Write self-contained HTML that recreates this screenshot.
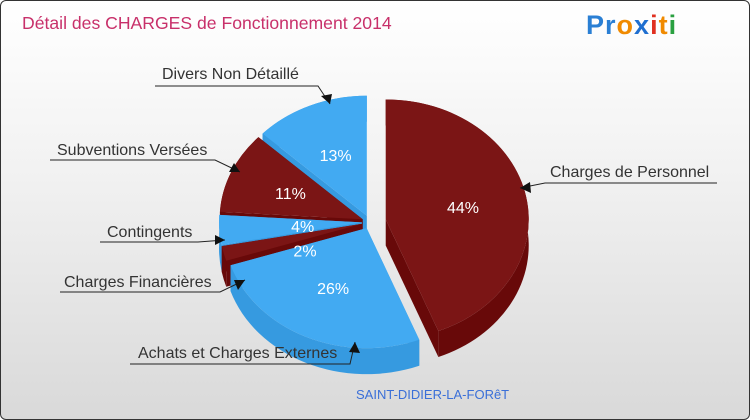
<!DOCTYPE html>
<html><head><meta charset="utf-8"><style>
body{margin:0;width:750px;height:420px;overflow:hidden;font-family:"Liberation Sans",sans-serif}
#c{position:absolute;left:0;top:0;width:748px;height:418px;border:1px solid #333;border-radius:6px;background:linear-gradient(#ffffff,#f2f2f2 40%,#d9d9d9)}
</style></head><body>
<div id="c"></div>
<svg id="s" width="750" height="420" style="position:absolute;left:0;top:0">
<text x="22" y="29" font-size="17.6" fill="#c8306a">Détail des CHARGES de Fonctionnement 2014</text>
<text x="586" y="34" font-size="27" font-weight="bold" letter-spacing="1"><tspan fill="#2a7fd4">Pr</tspan><tspan fill="#f08a00">o</tspan><tspan fill="#1f6fd0">x</tspan><tspan fill="#e03020">i</tspan><tspan fill="#f08a00">t</tspan><tspan fill="#2aa040">i</tspan></text>
<g id="pie"></g>
<g fill="none" stroke="#222" stroke-width="1">
<polyline points="155,86 318,86 330,104"/>
<polyline points="50,160 215,160 240,172"/>
<polyline points="100,242 198,242 225,240"/>
<polyline points="60,292 220,292 245,280"/>
<polyline points="130,364 350,364 355,342"/>
<polyline points="717,183 545,183 520,188"/>
</g>
<g fill="#111">
<polygon points="330,104 321,96 332,94"/>
<polygon points="240,172 229,172 234,163"/>
<polygon points="225,240 215,235 215,245"/>
<polygon points="245,280 234,280 238,290"/>
<polygon points="355,342 349,352 360,353"/>
<polygon points="520,188 530,182 531,193"/>
</g>
<g font-size="16" fill="#333">
<text x="162" y="79">Divers Non Détaillé</text>
<text x="57" y="155">Subventions Versées</text>
<text x="107" y="237">Contingents</text>
<text x="64" y="287">Charges Financières</text>
<text x="138" y="358">Achats et Charges Externes</text>
<text x="550" y="177">Charges de Personnel</text>
</g>
<text x="356" y="399" font-size="13" fill="#3a6fd8">SAINT-DIDIER-LA-FORêT</text>
</svg>
<script>
const categories=["Charges de Personnel","Achats et Charges Externes","Charges Financières","Contingents","Subventions Versées","Divers Non Détaillé"];
const values=[44,26,2,4,11,13];
const pctLabels=["44%","26%","2%","4%","11%","13%"];
const isRed=[true,false,true,false,true,false];
const cx=370,cy=222,rx=143,ry=120,depth=26;
const NS="http://www.w3.org/2000/svg";
const g=document.getElementById('pie');
const total=values.reduce((a,b)=>a+b,0);
function pt(x0,y0,a,k){return [x0+Math.sin(a)*rx*k,y0-Math.cos(a)*ry*k];}
let acc=0;const slices=[];
values.forEach((v,i)=>{const a0=acc/total*2*Math.PI;acc+=v;const a1=acc/total*2*Math.PI;
 const mid=(a0+a1)/2;const ex=i==0?16:8;
 slices.push({i,a0,a1,mid,ox:cx+Math.sin(mid)*ex,oy:cy-Math.cos(mid)*ex*0.85});});
function arcPath(s,dy){const [x0,y0]=pt(s.ox,s.oy+dy,s.a0,1),[x1,y1]=pt(s.ox,s.oy+dy,s.a1,1);
 const large=(s.a1-s.a0)>Math.PI?1:0;return {x0,y0,x1,y1,large};}
slices.slice().sort((a,b)=>(-Math.cos(a.mid))-(-Math.cos(b.mid))).forEach(s=>{
 const top=isRed[s.i]?"#7b1515":"#42aaf2",side=isRed[s.i]?"#680909":"#369ae0";
 const t=arcPath(s,0),b=arcPath(s,depth);
 const grp=document.createElementNS(NS,'g');
 
 
 const mk=(d,f)=>{const p=document.createElementNS(NS,'path');p.setAttribute('d',d);p.setAttribute('fill',f);grp.appendChild(p);return p;};
 mk(`M${s.ox},${s.oy}L${t.x0},${t.y0}L${b.x0},${b.y0}L${s.ox},${s.oy+depth}Z`,side);
 mk(`M${s.ox},${s.oy}L${t.x1},${t.y1}L${b.x1},${b.y1}L${s.ox},${s.oy+depth}Z`,side);
 mk(`M${t.x0},${t.y0}A${rx},${ry} 0 ${t.large} 1 ${t.x1},${t.y1}L${b.x1},${b.y1}A${rx},${ry} 0 ${t.large} 0 ${b.x0},${b.y0}Z`,side);
 mk(`M${s.ox},${s.oy}L${t.x0},${t.y0}A${rx},${ry} 0 ${t.large} 1 ${t.x1},${t.y1}Z`,top);
 g.appendChild(grp);});
slices.forEach(s=>{const small=values[s.i]<6;const k=small?0.5:0.55;const [x,y]=pt(s.ox,s.oy,s.mid,k);
 const tx=document.createElementNS(NS,'text');tx.setAttribute('x',x+(small?12:0));tx.setAttribute('y',y+6+(small?(s.mid<4.5?12:0):0));
 tx.setAttribute('text-anchor','middle');tx.setAttribute('font-size','16');tx.setAttribute('fill','#fff');
 tx.textContent=pctLabels[s.i];
 
 
 g.appendChild(tx);});
</script>
</body></html>
